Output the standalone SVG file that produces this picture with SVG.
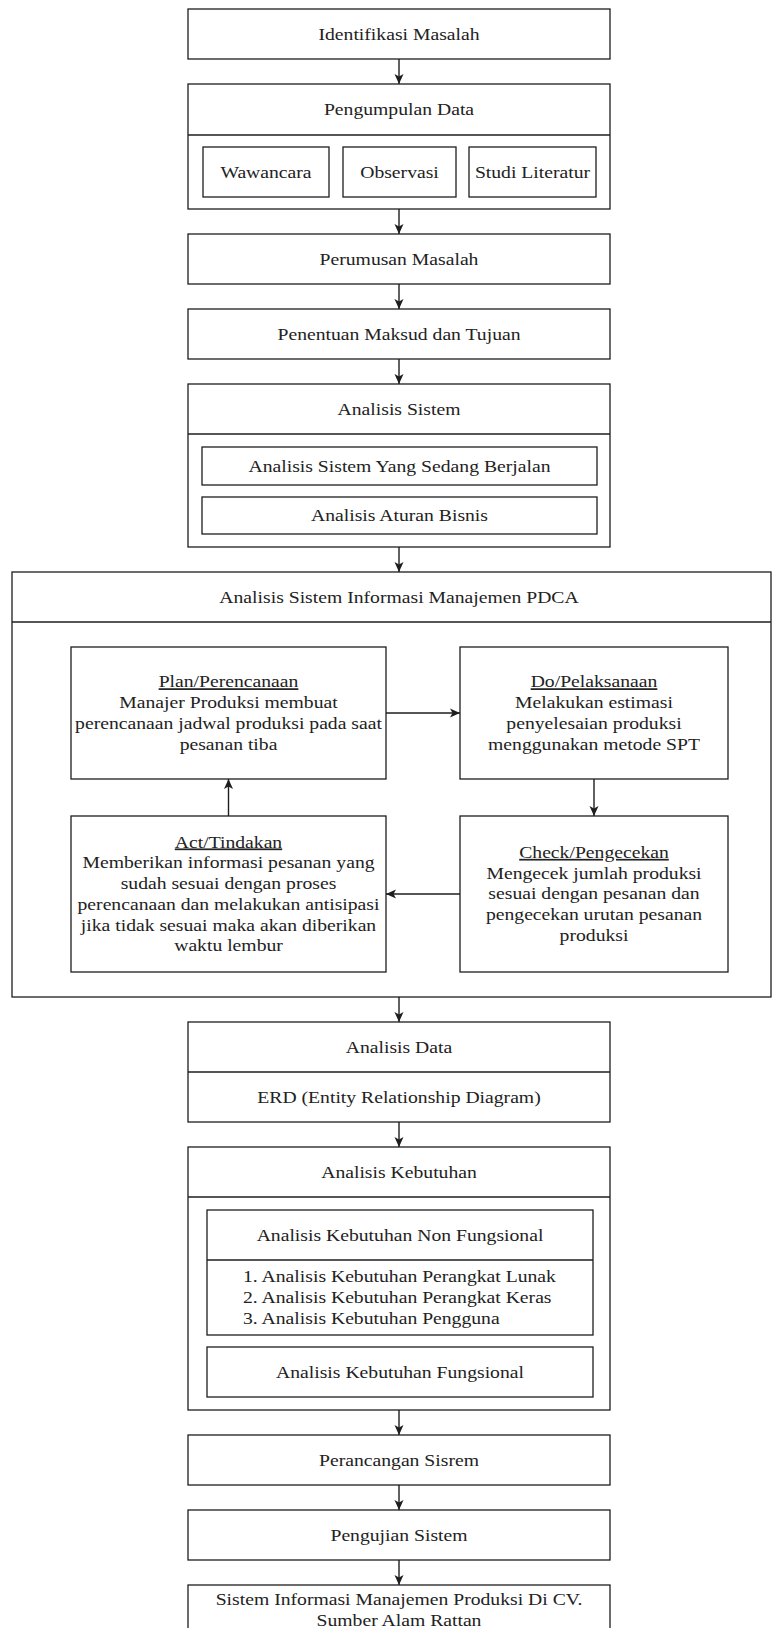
<svg xmlns="http://www.w3.org/2000/svg" width="772" height="1628" viewBox="0 0 772 1628">
<style>
.b{fill:#fff;stroke:#1e1e1e;stroke-width:1.3}
.l{fill:none;stroke:#1e1e1e;stroke-width:1.3}
.t{font-family:"Liberation Serif","Times New Roman",serif;font-size:17.3px;fill:#222;text-anchor:middle}
.s{text-anchor:start}
.u{text-decoration:underline}
.c{fill:none;stroke:#1e1e1e;stroke-width:1.4}
</style>
<defs>
<marker id="ar" markerUnits="userSpaceOnUse" markerWidth="12" markerHeight="12" viewBox="0 0 12 12" refX="11" refY="6" orient="auto">
<path d="M1,1.5 L11,6 L1,10.5 L3.5,6 Z" fill="#1e1e1e"/>
</marker>
</defs>
<rect width="772" height="1628" fill="#fff"/>

<g id="n-identifikasi">
<rect class="b" x="188" y="9" width="422" height="50"/>
<text class="t" transform="translate(399 39.5) scale(1.137 1)">Identifikasi Masalah</text>
</g>

<g id="n-pengumpulan">
<rect class="b" x="188" y="84" width="422" height="125"/>
<line class="l" x1="188" y1="135" x2="610" y2="135"/>
<text class="t" transform="translate(399 115) scale(1.137 1)">Pengumpulan Data</text>
</g>
<g id="n-wawancara">
<rect class="b" x="203" y="147" width="126" height="50"/>
<text class="t" transform="translate(266 177.5) scale(1.137 1)">Wawancara</text>
</g>
<g id="n-observasi">
<rect class="b" x="343" y="147" width="113" height="50"/>
<text class="t" transform="translate(399.5 177.5) scale(1.137 1)">Observasi</text>
</g>
<g id="n-studi">
<rect class="b" x="469" y="147" width="127" height="50"/>
<text class="t" transform="translate(532.5 177.5) scale(1.137 1)">Studi Literatur</text>
</g>

<g id="n-perumusan">
<rect class="b" x="188" y="234" width="422" height="50"/>
<text class="t" transform="translate(399 264.5) scale(1.137 1)">Perumusan Masalah</text>
</g>

<g id="n-penentuan">
<rect class="b" x="188" y="309" width="422" height="50"/>
<text class="t" transform="translate(399 339.5) scale(1.137 1)">Penentuan Maksud dan Tujuan</text>
</g>

<g id="n-analisis-sistem">
<rect class="b" x="188" y="384" width="422" height="163"/>
<line class="l" x1="188" y1="434" x2="610" y2="434"/>
<text class="t" transform="translate(399 414.5) scale(1.137 1)">Analisis Sistem</text>
</g>
<g id="n-as-berjalan">
<rect class="b" x="202" y="447" width="395" height="38"/>
<text class="t" transform="translate(399.5 471.5) scale(1.137 1)">Analisis Sistem Yang Sedang Berjalan</text>
</g>
<g id="n-as-aturan">
<rect class="b" x="202" y="497" width="395" height="37"/>
<text class="t" transform="translate(399.5 521) scale(1.137 1)">Analisis Aturan Bisnis</text>
</g>

<g id="n-pdca">
<rect class="b" x="12" y="572" width="759" height="425"/>
<line class="l" x1="12" y1="622" x2="771" y2="622"/>
<text class="t" transform="translate(399 602.5) scale(1.137 1)">Analisis Sistem Informasi Manajemen PDCA</text>
</g>
<g id="n-plan">
<rect class="b" x="71" y="647" width="315" height="132"/>
<text class="t" transform="translate(228.5 687.3) scale(1.137 1)"><tspan x="0" class="u">Plan/Perencanaan</tspan><tspan x="0" dy="20.8">Manajer Produksi membuat</tspan><tspan x="0" dy="20.8">perencanaan jadwal produksi pada saat</tspan><tspan x="0" dy="20.8">pesanan tiba</tspan></text>
</g>
<g id="n-do">
<rect class="b" x="460" y="647" width="268" height="132"/>
<text class="t" transform="translate(594 687.3) scale(1.137 1)"><tspan x="0" class="u">Do/Pelaksanaan</tspan><tspan x="0" dy="20.8">Melakukan estimasi</tspan><tspan x="0" dy="20.8">penyelesaian produksi</tspan><tspan x="0" dy="20.8">menggunakan metode SPT</tspan></text>
</g>
<g id="n-check">
<rect class="b" x="460" y="816" width="268" height="156"/>
<text class="t" transform="translate(594 857.9) scale(1.137 1)"><tspan x="0" class="u">Check/Pengecekan</tspan><tspan x="0" dy="20.8">Mengecek jumlah produksi</tspan><tspan x="0" dy="20.8">sesuai dengan pesanan dan</tspan><tspan x="0" dy="20.8">pengecekan urutan pesanan</tspan><tspan x="0" dy="20.8">produksi</tspan></text>
</g>
<g id="n-act">
<rect class="b" x="71" y="816" width="315" height="156"/>
<text class="t" transform="translate(228.5 847.5) scale(1.137 1)"><tspan x="0" class="u">Act/Tindakan</tspan><tspan x="0" dy="20.8">Memberikan informasi pesanan yang</tspan><tspan x="0" dy="20.8">sudah sesuai dengan proses</tspan><tspan x="0" dy="20.8">perencanaan dan melakukan antisipasi</tspan><tspan x="0" dy="20.8">jika tidak sesuai maka akan diberikan</tspan><tspan x="0" dy="20.8">waktu lembur</tspan></text>
</g>

<g id="n-analisis-data">
<rect class="b" x="188" y="1022" width="422" height="100"/>
<line class="l" x1="188" y1="1072" x2="610" y2="1072"/>
<text class="t" transform="translate(399 1052.5) scale(1.137 1)">Analisis Data</text>
<text class="t" transform="translate(399 1102.5) scale(1.137 1)">ERD (Entity Relationship Diagram)</text>
</g>

<g id="n-kebutuhan">
<rect class="b" x="188" y="1147" width="422" height="263"/>
<line class="l" x1="188" y1="1197" x2="610" y2="1197"/>
<text class="t" transform="translate(399 1177.5) scale(1.137 1)">Analisis Kebutuhan</text>
</g>
<g id="n-nonfungsional">
<rect class="b" x="207" y="1210" width="386" height="125"/>
<line class="l" x1="207" y1="1260" x2="593" y2="1260"/>
<text class="t" transform="translate(400 1240.5) scale(1.137 1)">Analisis Kebutuhan Non Fungsional</text>
<text class="t s" transform="translate(243 1282.2) scale(1.137 1)"><tspan x="0">1. Analisis Kebutuhan Perangkat Lunak</tspan><tspan x="0" dy="20.8">2. Analisis Kebutuhan Perangkat Keras</tspan><tspan x="0" dy="20.8">3. Analisis Kebutuhan Pengguna</tspan></text>
</g>
<g id="n-fungsional">
<rect class="b" x="207" y="1347" width="386" height="50"/>
<text class="t" transform="translate(400 1377.5) scale(1.137 1)">Analisis Kebutuhan Fungsional</text>
</g>

<g id="n-perancangan">
<rect class="b" x="188" y="1435" width="422" height="50"/>
<text class="t" transform="translate(399 1465.5) scale(1.137 1)">Perancangan Sisrem</text>
</g>

<g id="n-pengujian">
<rect class="b" x="188" y="1510" width="422" height="50"/>
<text class="t" transform="translate(399 1540.5) scale(1.137 1)">Pengujian Sistem</text>
</g>

<g id="n-hasil">
<rect class="b" x="188" y="1585" width="422" height="50"/>
<text class="t" transform="translate(399 1605.1) scale(1.137 1)"><tspan x="0">Sistem Informasi Manajemen Produksi Di CV.</tspan><tspan x="0" dy="20.8">Sumber Alam Rattan</tspan></text>
</g>

<g id="connectors">
<line class="c" x1="399" y1="59" x2="399" y2="84" marker-end="url(#ar)"/>
<line class="c" x1="399" y1="209" x2="399" y2="234" marker-end="url(#ar)"/>
<line class="c" x1="399" y1="284" x2="399" y2="309" marker-end="url(#ar)"/>
<line class="c" x1="399" y1="359" x2="399" y2="384" marker-end="url(#ar)"/>
<line class="c" x1="399" y1="547" x2="399" y2="572" marker-end="url(#ar)"/>
<line class="c" x1="386" y1="713" x2="460" y2="713" marker-end="url(#ar)"/>
<line class="c" x1="594" y1="779" x2="594" y2="816" marker-end="url(#ar)"/>
<line class="c" x1="460" y1="894" x2="386" y2="894" marker-end="url(#ar)"/>
<line class="c" x1="228.5" y1="816" x2="228.5" y2="779" marker-end="url(#ar)"/>
<line class="c" x1="399" y1="997" x2="399" y2="1022" marker-end="url(#ar)"/>
<line class="c" x1="399" y1="1122" x2="399" y2="1147" marker-end="url(#ar)"/>
<line class="c" x1="399" y1="1410" x2="399" y2="1435" marker-end="url(#ar)"/>
<line class="c" x1="399" y1="1485" x2="399" y2="1510" marker-end="url(#ar)"/>
<line class="c" x1="399" y1="1560" x2="399" y2="1585" marker-end="url(#ar)"/>
</g>
</svg>
